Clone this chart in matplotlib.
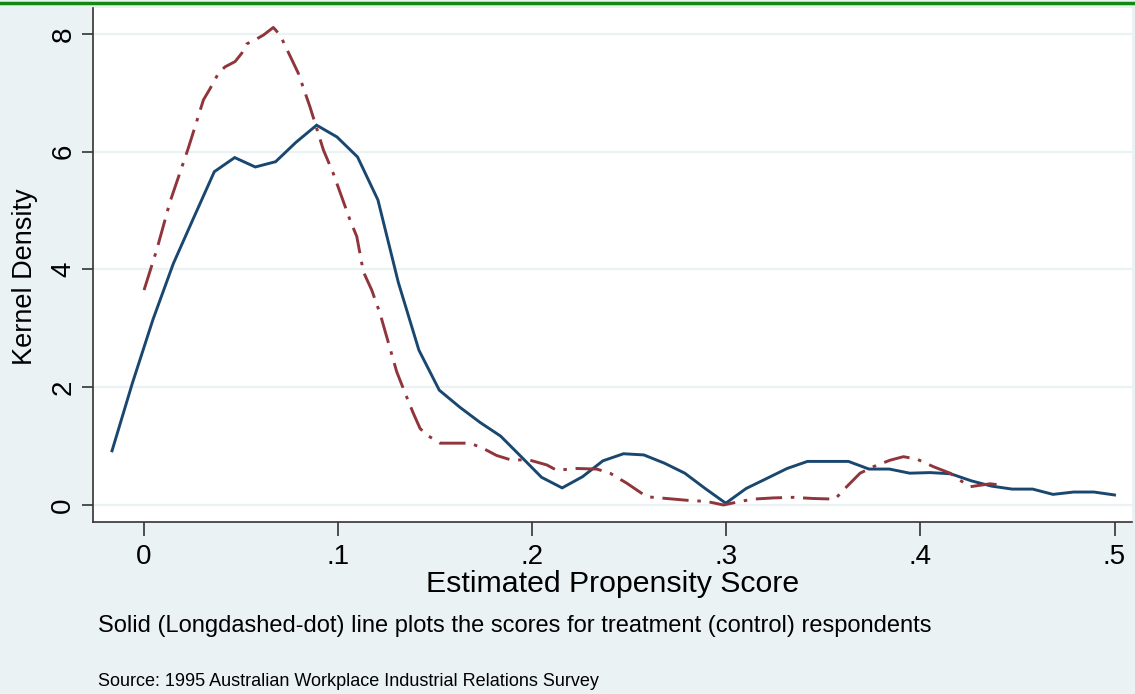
import matplotlib
matplotlib.use("Agg")
import matplotlib.pyplot as plt
from matplotlib.lines import Line2D

# kernel density of the estimated propensity score, treatment respondents
treat_x = [-0.0165, -0.0060, 0.0046, 0.0151, 0.0256, 0.0362, 0.0467, 0.0573, 0.0678,
           0.0783, 0.0889, 0.0994, 0.1100, 0.1205, 0.1310, 0.1416, 0.1521, 0.1627,
           0.1732, 0.1837, 0.1943, 0.2048, 0.2154, 0.2259, 0.2364, 0.2470, 0.2575,
           0.2681, 0.2786, 0.2891, 0.2997, 0.3102, 0.3208, 0.3313, 0.3418, 0.3524,
           0.3629, 0.3735, 0.3840, 0.3945, 0.4051, 0.4156, 0.4262, 0.4367, 0.4472,
           0.4578, 0.4683, 0.4789, 0.4894, 0.5000]
treat_y = [0.92, 2.07, 3.15, 4.10, 4.88, 5.66, 5.90, 5.74, 5.83,
           6.16, 6.45, 6.25, 5.91, 5.18, 3.78, 2.63, 1.95, 1.66,
           1.40, 1.17, 0.82, 0.47, 0.29, 0.48, 0.75, 0.87, 0.85,
           0.71, 0.54, 0.28, 0.03, 0.28, 0.45, 0.62, 0.74, 0.74,
           0.74, 0.61, 0.61, 0.54, 0.55, 0.53, 0.41, 0.32, 0.27,
           0.27, 0.18, 0.22, 0.22, 0.17]

# same for control respondents
ctrl_x = [0.0000, 0.0065, 0.0134, 0.0228, 0.0306, 0.0340, 0.0383, 0.0417, 0.0469,
          0.0503, 0.0529, 0.0572, 0.0615, 0.0666, 0.0701, 0.0795, 0.0855, 0.0924,
          0.0975, 0.1061, 0.1096, 0.1130, 0.1173, 0.1216, 0.1302, 0.1345, 0.1387,
          0.1422, 0.1456, 0.1525, 0.1680, 0.1748, 0.1817, 0.1886, 0.1989, 0.2075,
          0.2126, 0.2229, 0.2332, 0.2401, 0.2487, 0.2590, 0.2693, 0.2796, 0.2899,
          0.2985, 0.3071, 0.3139, 0.3242, 0.3345, 0.3448, 0.3560, 0.3620, 0.3689,
          0.3757, 0.3843, 0.3912, 0.3981, 0.4067, 0.4153, 0.4204, 0.4256, 0.4359,
          0.4410]
ctrl_y = [3.65, 4.33, 5.15, 6.06, 6.88, 7.07, 7.33, 7.44, 7.53,
          7.67, 7.83, 7.90, 7.98, 8.11, 7.98, 7.33, 6.76, 6.03,
          5.63, 4.84, 4.56, 3.96, 3.65, 3.25, 2.26, 1.90, 1.56,
          1.30, 1.19, 1.05, 1.05, 0.96, 0.84, 0.77, 0.76, 0.68,
          0.59, 0.62, 0.61, 0.54, 0.37, 0.14, 0.11, 0.08, 0.06,
          0.00, 0.06, 0.10, 0.12, 0.13, 0.11, 0.10, 0.31, 0.54,
          0.65, 0.76, 0.82, 0.78, 0.65, 0.54, 0.42, 0.31, 0.36,
          0.34]

x_ticks = [0, 0.1, 0.2, 0.3, 0.4, 0.5]
x_ticklabels = ["0", ".1", ".2", ".3", ".4", ".5"]
y_ticks = [0, 2, 4, 6, 8]

plt.rcParams["font.family"] = ["Liberation Sans", "DejaVu Sans"]

bg = "#eaf2f3"
navy = "#1a476f"
maroon = "#90353b"

fig = plt.figure(figsize=(11.35, 6.94), dpi=100, facecolor=bg)
ax = fig.add_axes([93 / 1135, 1 - 522 / 694, (1132 - 93) / 1135, (522 - 8) / 694])
ax.set_facecolor("white")

ax.plot(treat_x, treat_y, color=navy, lw=2.1, solid_joinstyle="miter")
ax.plot(ctrl_x, ctrl_y, color=maroon, lw=2.1, linestyle=(0, (9, 3, 1.2, 3)))

ax.set_xlim(-0.0263, 0.509)
ax.set_ylim(-0.289, 8.44)
ax.set_xticks(x_ticks)
ax.set_xticklabels(x_ticklabels)
ax.set_yticks(y_ticks)
ax.grid(axis="y", color="#eaf2f3", lw=1.6)
ax.set_axisbelow(True)

for side in ["top", "right"]:
    ax.spines[side].set_visible(False)
for side in ["left", "bottom"]:
    ax.spines[side].set_color("#333333")
    ax.spines[side].set_linewidth(1.2)

ax.tick_params(axis="x", length=10, width=1.2, color="#333333", labelsize=20, pad=6)
ax.tick_params(axis="y", length=8, width=1.2, color="#333333", labelsize=20, pad=4)
for lab in ax.get_yticklabels():
    lab.set_rotation(90)
    lab.set_va("center")

ax.set_xlabel("Estimated Propensity Score", fontsize=21.8, labelpad=0)
ax.set_ylabel("Kernel Density", fontsize=19.5)
ax.yaxis.set_label_coords(-0.053, 0.477)

fig.text(98 / 1135, 1 - 626 / 694,
         "Solid (Longdashed-dot) line plots the scores for treatment (control) respondents",
         fontsize=17, va="center", ha="left")
fig.text(98 / 1135, 1 - 682 / 694,
         "Source: 1995 Australian Workplace Industrial Relations Survey",
         fontsize=13, va="center", ha="left")

# green rule along the top edge
fig.add_artist(Line2D([0, 1], [1 - 3 / 694, 1 - 3 / 694], color="#118a11", lw=2.5,
                      transform=fig.transFigure))

fig.savefig("out.png", dpi=100, facecolor=bg)
